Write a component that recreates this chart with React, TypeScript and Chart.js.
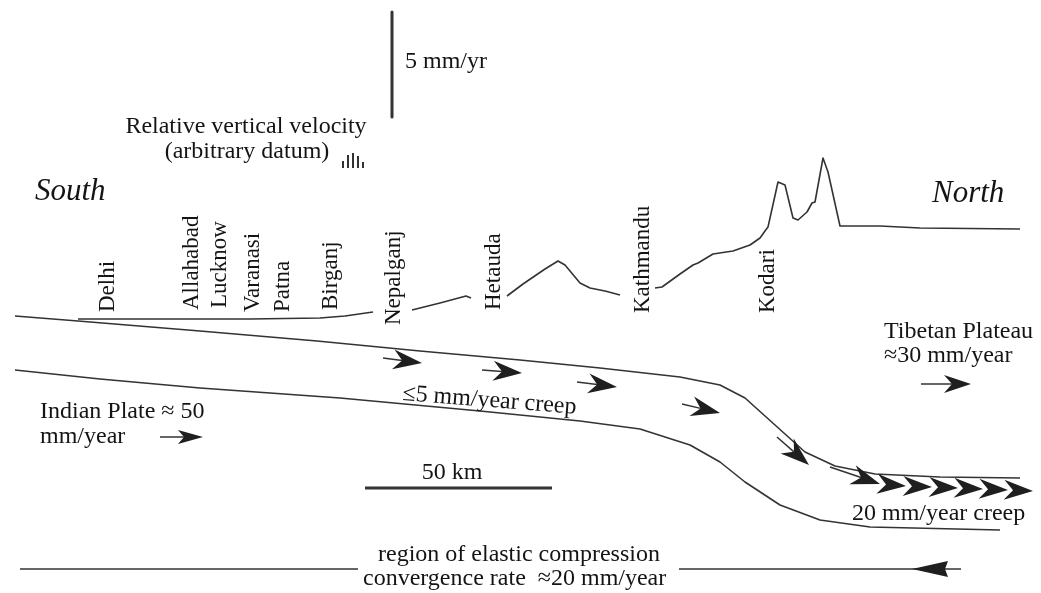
import React, { useEffect, useRef } from 'react';
import { Chart, registerables } from 'chart.js';

Chart.register(...registerables);

type P = [number, number];

// Figure units: horizontal distance along the section, vertical position (downwards)
const FIG_W = 1041;
const FIG_H = 593;

// Relative vertical velocity profile (broken where the place names sit)
const profileGangesPlain: P[] = [[78, 319], [150, 319], [250, 319], [320, 318], [345, 316], [373, 312]];
const profileSiwalik: P[] = [[412, 310], [440, 303], [466, 296], [471, 298]];
const profileMahabharat: P[] = [[507, 296], [523, 284], [545, 269], [558, 261], [565, 265], [580, 283], [590, 288], [605, 291], [620, 295]];
const profileHighHimalaya: P[] = [
  [655, 288], [662, 287], [680, 274], [693, 265], [698, 263], [713, 254], [733, 251], [750, 245],
  [760, 238], [765, 231], [768, 227], [778, 182], [785, 185], [793, 218], [798, 220], [807, 212],
  [812, 203], [815, 202], [823, 158], [828, 172], [840, 226], [880, 226], [920, 228], [1020, 229],
];

// Creep zone boundaries
const creepTop: P[] = [
  [15, 316], [78, 321], [200, 331], [317, 341], [420, 351], [520, 360], [600, 368], [680, 377],
  [720, 385], [745, 398], [775, 425], [805, 452], [835, 466], [875, 474], [940, 477], [1020, 478],
];
const creepBottom: P[] = [
  [15, 370], [100, 379], [200, 388], [340, 398], [480, 411], [580, 421], [640, 429], [690, 445],
  [720, 462], [745, 482], [780, 505], [820, 520], [870, 527], [1000, 530],
];

// Scale bars and convergence lines
const velocityScaleBar: P[] = [[392, 12], [392, 117]];
const kmScaleBar: P[] = [[365, 488], [552, 488]];
const convergenceLeft: P[] = [[20, 569], [358, 569]];
const convergenceRight: P[] = [[679, 569], [961, 569]];

// small symbol next to "(arbitrary datum)"
const datumMark: P[][] = [
  [[343, 168], [343, 161]], [[348, 168], [348, 155]], [[353, 168], [353, 153]],
  [[358, 168], [358, 156]], [[363, 168], [363, 162]],
];

// Arrows: [shaftStartX, shaftStartY, tipX, tipY]
const creepArrows: number[][] = [
  [383, 358, 422, 363], [482, 370, 522, 373], [577, 382, 617, 387], [682, 404, 720, 413], [777, 437, 809, 465],
];
const rowArrowShaft: P = [830, 467];
const rowArrowTips: P[] = [[880, 484], [906, 486], [932, 487], [958, 488], [983, 489], [1008, 490], [1033, 491]];
const indianPlateArrow = [160, 437, 203, 437];
const tibetArrow = [921, 384, 971, 384];
const convergenceArrow = [961, 569, 912, 569];

// Place names along the section (label centre x, label foot y)
const cityNames = ['Delhi', 'Allahabad', 'Lucknow', 'Varanasi', 'Patna', 'Birganj', 'Nepalganj', 'Hetauda', 'Kathmandu', 'Kodari'];
const cityX = [108, 192, 220, 253, 283, 331, 394, 494, 643, 768];
const cityFoot = [312, 310, 308, 312, 312, 310, 325, 310, 313, 313];

// Text annotations: [text, x, baselineY, align, italic, size, rotationDeg]
const annotations: [string, number, number, CanvasTextAlign, boolean, number, number][] = [
  ['5 mm/yr', 405, 68, 'left', false, 24, 0],
  ['Relative vertical velocity', 246, 133, 'center', false, 24, 0],
  ['(arbitrary datum)', 247, 158, 'center', false, 24, 0],
  ['South', 35, 200, 'left', true, 31, 0],
  ['North', 932, 202, 'left', true, 31, 0],
  ['Tibetan Plateau', 884, 338, 'left', false, 24, 0],
  ['\u224830 mm/year', 884, 362, 'left', false, 24, 0],
  ['Indian Plate \u2248 50', 40, 418, 'left', false, 24, 0],
  ['mm/year', 40, 443, 'left', false, 24, 0],
  ['\u22645 mm/year creep', 402, 400, 'left', false, 24, 4.5],
  ['50 km', 452, 479, 'center', false, 24, 0],
  ['20 mm/year creep', 852, 520, 'left', false, 24, 0],
  ['region of elastic compression', 378, 561, 'left', false, 24, 0],
  ['convergence rate  \u224820 mm/year', 363, 585, 'left', false, 24, 0],
];

const INK = '#333333';
const TEXT = '#141414';
const SERIF = '"Liberation Serif", "Times New Roman", serif';

const toXY = (pts: P[]) => pts.map(([x, y]) => ({ x, y }));

function lineDataset(pts: P[], width = 1.6) {
  return {
    data: toXY(pts),
    borderColor: INK,
    borderWidth: width,
    pointRadius: 0,
    fill: false,
    tension: 0,
  };
}

const figurePlugin = {
  id: 'figureAnnotations',
  afterDatasetsDraw(chart: any) {
    const { ctx } = chart;
    const xs = chart.scales.x;
    const ys = chart.scales.y;
    const px = (v: number) => xs.getPixelForValue(v);
    const py = (v: number) => ys.getPixelForValue(v);

    const head = (tx: number, ty: number, ang: number, L: number, W: number, N: number) => {
      const cx = px(tx);
      const cy = py(ty);
      const dx = Math.cos(ang);
      const dy = Math.sin(ang);
      const bx = cx - L * dx;
      const by = cy - L * dy;
      ctx.beginPath();
      ctx.moveTo(cx, cy);
      ctx.lineTo(bx - W * dy, by + W * dx);
      ctx.lineTo(cx - (L - N) * dx, cy - (L - N) * dy);
      ctx.lineTo(bx + W * dy, by - W * dx);
      ctx.closePath();
      ctx.fill();
    };
    const arrow = (a: number[], L: number, W: number, N: number) => {
      const [sx, sy, tx, ty] = a;
      const ang = Math.atan2(py(ty) - py(sy), px(tx) - px(sx));
      ctx.beginPath();
      ctx.moveTo(px(sx), py(sy));
      ctx.lineTo(px(tx) - (L - N) * Math.cos(ang), py(ty) - (L - N) * Math.sin(ang));
      ctx.stroke();
      head(tx, ty, ang, L, W, N);
    };

    ctx.save();
    ctx.fillStyle = '#1f1f1f';
    ctx.strokeStyle = INK;
    ctx.lineWidth = 1.5;
    ctx.lineJoin = 'miter';

    creepArrows.forEach((a) => arrow(a, 29, 10, 9));
    let prev: P = rowArrowShaft;
    rowArrowTips.forEach((t, i) => {
      if (i === 0) {
        arrow([prev[0], prev[1], t[0], t[1]], 29, 10, 9);
      } else {
        const ang = Math.atan2(py(t[1]) - py(prev[1]), px(t[0]) - px(prev[0]));
        head(t[0], t[1], ang, 29, 10, 9);
      }
      prev = t;
    });
    arrow(indianPlateArrow, 25, 7, 6);
    arrow(tibetArrow, 27, 9, 8);
    head(convergenceArrow[2], convergenceArrow[3], Math.PI, 36, 8, 3);

    ctx.fillStyle = TEXT;
    annotations.forEach(([text, x, y, align, italic, size, rot]) => {
      ctx.save();
      ctx.font = `${italic ? 'italic ' : ''}${size}px ${SERIF}`;
      ctx.textAlign = align;
      ctx.textBaseline = 'alphabetic';
      ctx.translate(px(x), py(y));
      if (rot) ctx.rotate((rot * Math.PI) / 180);
      ctx.fillText(text, 0, 0);
      ctx.restore();
    });

    cityNames.forEach((name, i) => {
      ctx.save();
      ctx.font = `23px ${SERIF}`;
      ctx.textAlign = 'left';
      ctx.textBaseline = 'middle';
      ctx.translate(px(cityX[i]), py(cityFoot[i]));
      ctx.rotate(-Math.PI / 2);
      ctx.fillText(name, 0, 0);
      ctx.restore();
    });
    ctx.restore();
  },
};

export default function App() {
  const ref = useRef<HTMLCanvasElement | null>(null);

  useEffect(() => {
    if (!ref.current) return;
    const datasets: any[] = [
      lineDataset(profileGangesPlain),
      lineDataset(profileSiwalik),
      lineDataset(profileMahabharat),
      lineDataset(profileHighHimalaya),
      lineDataset(creepTop),
      lineDataset(creepBottom),
      lineDataset(velocityScaleBar, 3),
      lineDataset(kmScaleBar, 3),
      lineDataset(convergenceLeft, 1.6),
      lineDataset(convergenceRight, 1.6),
      ...datumMark.map((m) => lineDataset(m, 2)),
    ];
    const chart = new Chart(ref.current, {
      type: 'line',
      data: { datasets },
      options: {
        animation: false,
        responsive: false,
        devicePixelRatio: 1,
        layout: { padding: 0 },
        parsing: false as any,
        normalized: true,
        scales: {
          x: { type: 'linear', min: 0, max: FIG_W, display: false },
          y: { type: 'linear', min: 0, max: FIG_H, reverse: true, display: false },
        },
        plugins: { legend: { display: false }, tooltip: { enabled: false } },
        elements: { line: { borderCapStyle: 'butt', borderJoinStyle: 'round' } },
      },
      plugins: [figurePlugin],
    });
    return () => chart.destroy();
  }, []);

  return (
    <div style={{ position: 'absolute', left: 0, top: 0, width: FIG_W, height: FIG_H, background: '#ffffff' }}>
      <canvas ref={ref} width={FIG_W} height={FIG_H} />
    </div>
  );
}
